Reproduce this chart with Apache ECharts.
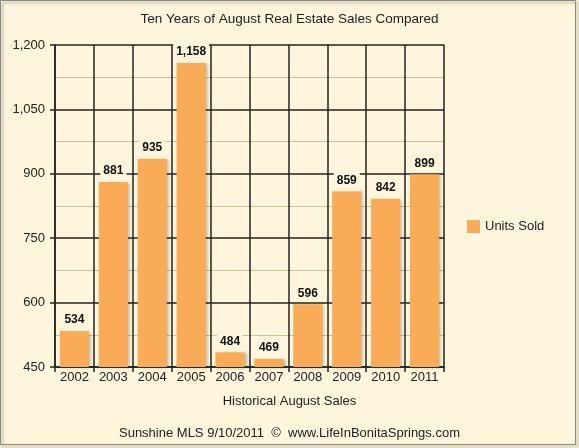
<!DOCTYPE html>
<html>
<head>
<meta charset="utf-8">
<script src="https://cdn.jsdelivr.net/npm/echarts@6/dist/echarts.min.js"></script>
<style>
  html, body { margin: 0; padding: 0; background: #fff; }
  #chart { width: 579px; height: 448px; }
</style>
</head>
<body>
<div id="chart"></div>
<script>
const years = ["2002", "2003", "2004", "2005", "2006", "2007", "2008", "2009", "2010", "2011"];
const unitsSold = [534, 881, 935, 1158, 484, 469, 596, 859, 842, 899];
const seriesName = "Units Sold";

const cream = "#fdf6dc";
const font = "Liberation Sans, Arial, sans-serif";

const myChart = echarts.init(document.getElementById("chart"));

const option = {
  backgroundColor: cream,
  animation: false,
  textStyle: { fontFamily: font },
  title: [
    {
      text: "Ten Years of August Real Estate Sales Compared",
      left: "center",
      top: 7,
      textStyle: { fontSize: 13.5, fontWeight: "normal", color: "#222", fontFamily: font },
    },
    {
      text: "Historical August Sales",
      left: "center",
      top: 390,
      textStyle: { fontSize: 13, fontWeight: "normal", color: "#222", fontFamily: font },
    },
    {
      text: "Sunshine MLS 9/10/2011  \u00a9  www.LifeInBonitaSprings.com",
      left: "center",
      top: 422,
      textStyle: { fontSize: 13, fontWeight: "normal", color: "#222", fontFamily: font },
    },
  ],
  legend: {
    data: [seriesName],
    orient: "vertical",
    left: 462,
    top: 215,
    itemWidth: 13,
    itemHeight: 13,
    icon: "rect",
    textStyle: { fontSize: 13, color: "#222", fontFamily: font },
  },
  grid: {
    left: 55,
    right: 135,
    top: 45,
    bottom: 81,
  },
  xAxis: {
    type: "category",
    data: years,
    axisLine: { show: true, lineStyle: { color: "#222", width: 1.5 } },
    axisTick: { show: true, length: 5, lineStyle: { color: "#222", width: 1.5 } },
    axisLabel: { fontSize: 13, color: "#222", margin: 4 },
    splitLine: { show: true, interval: 0, lineStyle: { color: "#222", width: 1.5 } },
  },
  yAxis: {
    type: "value",
    min: 450,
    max: 1200,
    interval: 150,
    axisLine: { show: true, lineStyle: { color: "#222", width: 1.5 } },
    axisTick: { show: true, length: 5, lineStyle: { color: "#222", width: 1.5 } },
    axisLabel: {
      fontSize: 13,
      color: "#222",
      margin: 10,
      formatter: (v) => v.toLocaleString("en-US"),
    },
    splitLine: { show: true, lineStyle: { color: "#222", width: 1.5 } },
    minorTick: { show: false, splitNumber: 2 },
    minorSplitLine: { show: true, lineStyle: { color: "#cbbf9c", width: 1 } },
  },
  series: [
    {
      name: seriesName,
      type: "bar",
      data: unitsSold,
      barCategoryGap: "25%",
      itemStyle: {
        color: "#f9ab57",
        shadowBlur: 3,
        shadowOffsetX: 2,
        shadowOffsetY: 1,
        shadowColor: "rgba(0,0,0,0.25)",
      },
      label: {
        show: true,
        position: "top",
        distance: 3,
        fontSize: 12,
        fontWeight: "bold",
        color: "#111",
        backgroundColor: cream,
        padding: [2, 3],
        formatter: (p) => p.value.toLocaleString("en-US"),
      },
    },
  ],
  graphic: [
    {
      type: "rect",
      shape: { x: 0.5, y: 0.5, width: 575, height: 444 },
      style: { fill: null, stroke: "#8a8a8a", lineWidth: 1, shadowBlur: 3, shadowOffsetX: 2, shadowOffsetY: 2, shadowColor: "rgba(0,0,0,0.4)" },
      silent: true,
      z: 100,
    },
  ],
};

myChart.setOption(option);
</script>
</body>
</html>
